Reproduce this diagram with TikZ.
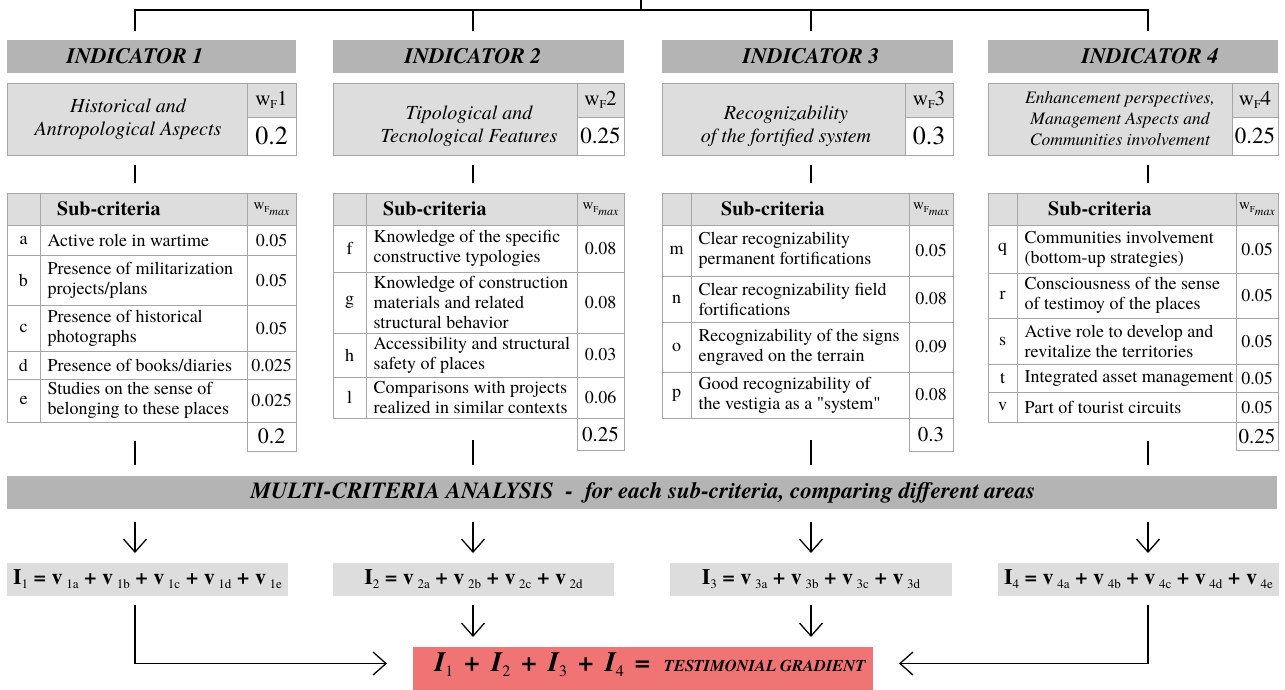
\documentclass[tikz,border=0pt]{standalone}
\usepackage{fontspec}
\setmainfont{texgyretermes}[Extension=.otf, UprightFont=*-regular, BoldFont=*-bold, ItalicFont=*-italic, BoldItalicFont=*-bolditalic]
\usetikzlibrary{arrows.meta}
\definecolor{hdrgray}{RGB}{180,180,180}
\definecolor{lgray}{RGB}{221,221,221}
\definecolor{lineg}{RGB}{165,165,165}
\definecolor{redbox}{RGB}{240,116,116}
\newcommand\fsz[2]{\fontsize{#1pt}{#2pt}\selectfont}
\newcommand\mkcell[7]{%
  \pgfmathsetmacro\cw{#4-#2}%
  \pgfmathsetmacro\ch{#5-#3}%
  \node[#6, minimum width=\cw pt, minimum height=\ch pt, anchor=north west] (#1) at (#2,#3) {#7};}
\newcommand\setcol[4]{\def\cL{#1}\def\cA{#2}\def\cB{#3}\def\cR{#4}}
\newcommand\subrow[6]{%
  \mkcell{#1l}{\cL}{#2}{\cA}{#3}{tc}{#4}%
  \mkcell{#1t}{\cA}{#2}{\cB}{#3}{tc}{}%
  \mkcell{#1v}{\cB}{#2}{\cR}{#3}{tc}{#6}%
  \node[rowtxt] (#1x) at ({\cA+7.5},{(#2+#3)/2}) {#5};}
\newcommand\wf[1]{\fsz{21}{21}w\raisebox{-3pt}{\fsz{12}{12}F}#1}
\newcommand\wfmax{\fsz{15}{15}w\raisebox{-2.5pt}{\fsz{9}{9}F\raisebox{-3pt}{\fsz{12}{12}\itshape max}}}
\newcommand\vt[1]{\textbf{v}\,\raisebox{-4pt}{\mdseries\fsz{13}{13}#1}}
\newcommand\It[1]{\textbf{I}\raisebox{-4pt}{\mdseries\fsz{13}{13}#1}}
\newcommand\Ri[1]{I\raisebox{-5pt}{\upshape\mdseries\fsz{16}{16}#1}}
\tikzset{
  tc/.style={draw=lineg, line width=0.9pt, inner sep=0pt, outer sep=0pt, font=\fsz{18}{20}},
  rowtxt/.style={anchor=west, align=left, inner sep=0pt, font=\fsz{18}{20}},
  subh/.style={anchor=west, inner sep=0pt, font=\bfseries\fsz{20}{20}},
  bar/.style={fill=hdrgray, inner sep=0pt, outer sep=0pt},
  fbox/.style={fill=lgray, inner sep=0pt, outer sep=0pt, font=\bfseries\fsz{22}{22}},
  conn/.style={line width=1.3pt},
  arr/.style={conn, -{Straight Barb[length=13pt,width=23pt]}},
  indt/.style={font=\bfseries\itshape\fsz{22}{22}, inner sep=0pt},
  tit/.style={align=center, font=\itshape\fsz{20}{23}, inner sep=0pt},
}
\begin{document}
\begin{tikzpicture}[x=1pt,y=-1pt]
\useasboundingbox (0,0) rectangle (1285,690);
\coordinate (g1) at (135,0);
\coordinate (g2) at (473,0);
\coordinate (g3) at (811,0);
\coordinate (g4) at (1148,0);
\coordinate (topin) at (641,0);
\coordinate (hub) at (641,10);

% ---------------- column 1
\mkcell{ind1}{7}{40}{296}{73}{bar}{}
\node[indt] (it1) at (135,56.5) {INDICATOR 1};
\mkcell{tit1}{7}{83}{247}{155}{tc,fill=lgray}{}
\node[tit] (tt1) at (128,119.5) {Historical and\\Antropological Aspects};
\mkcell{wl1}{247}{83}{296}{117}{tc,fill=lgray}{\wf{1}}
\mkcell{wv1}{247}{117}{296}{155}{tc,fill=white,font=\fsz{26}{26}}{0.2}
\setcol{7}{40}{247}{296}
\mkcell{hl1}{\cL}{193}{\cA}{225}{tc,fill=lgray}{}
\mkcell{ht1}{\cA}{193}{\cB}{225}{tc,fill=lgray}{}
\mkcell{hv1}{\cB}{193}{\cR}{225}{tc,fill=lgray}{\wfmax}
\node[subh] (hs1) at (57,209) {Sub-criteria};
\subrow{ra}{225}{255}{a}{Active role in wartime}{0.05}
\subrow{rb}{255}{305}{b}{Presence of militarization\\projects/plans}{0.05}
\subrow{rc}{305}{351}{c}{Presence of historical\\photographs}{0.05}
\subrow{rd}{351}{379}{d}{Presence of books/diaries}{0.025}
\subrow{re}{379}{422}{e}{Studies on the sense of\\belonging to these places}{0.025}
\mkcell{tot1}{\cB}{422}{\cR}{451}{tc,font=\fsz{22}{22}}{0.2}

% ---------------- column 2
\mkcell{ind2}{333}{40}{624}{73}{bar}{}
\node[indt] (it2) at (473,56.5) {INDICATOR 2};
\mkcell{tit2}{333}{83}{577}{155}{tc,fill=lgray}{}
\node[tit] (tt2) at (469,126) {Tipological and\\Tecnological Features};
\mkcell{wl2}{577}{83}{624}{117}{tc,fill=lgray}{\wf{2}}
\mkcell{wv2}{577}{117}{624}{155}{tc,fill=white,font=\fsz{23}{23}}{0.25}
\setcol{333}{366}{577}{624}
\mkcell{hl2}{\cL}{193}{\cA}{225}{tc,fill=lgray}{}
\mkcell{ht2}{\cA}{193}{\cB}{225}{tc,fill=lgray}{}
\mkcell{hv2}{\cB}{193}{\cR}{225}{tc,fill=lgray}{\wfmax}
\node[subh] (hs2) at (383,209) {Sub-criteria};
\subrow{rf}{225}{272}{f}{Knowledge of the specific\\constructive typologies}{0.08}
\subrow{rg}{272}{333}{g}{Knowledge of construction\\materials and related\\structural behavior}{0.08}
\subrow{rh}{333}{377}{h}{Accessibility and structural\\safety of places}{0.03}
\subrow{rl}{377}{418}{l}{Comparisons with projects\\realized in similar contexts}{0.06}
\mkcell{tot2}{\cB}{418}{\cR}{450}{tc,font=\fsz{21}{21}}{0.25}

% ---------------- column 3
\mkcell{ind3}{662}{40}{953}{73}{bar}{}
\node[indt] (it3) at (811,56.5) {INDICATOR 3};
\mkcell{tit3}{662}{83}{905}{155}{tc,fill=lgray}{}
\node[tit] (tt3) at (786,126) {Recognizability\\of the fortified system};
\mkcell{wl3}{905}{83}{953}{117}{tc,fill=lgray}{\wf{3}}
\mkcell{wv3}{905}{117}{953}{155}{tc,fill=white,font=\fsz{26}{26}}{0.3}
\setcol{662}{691}{909}{953}
\mkcell{hl3}{\cL}{193}{\cA}{225}{tc,fill=lgray}{}
\mkcell{ht3}{\cA}{193}{\cB}{225}{tc,fill=lgray}{}
\mkcell{hv3}{\cB}{193}{\cR}{225}{tc,fill=lgray}{\wfmax}
\node[subh] (hs3) at (721,209) {Sub-criteria};
\subrow{rm}{225}{276}{m}{Clear recognizability\\permanent fortifications}{0.05}
\subrow{rn}{276}{322}{n}{Clear recognizability field\\fortifications}{0.08}
\subrow{ro}{322}{372}{o}{Recognizability of the signs\\engraved on the terrain}{0.09}
\subrow{rp}{372}{418}{p}{Good recognizability of\\the vestigia as a \textquotedbl system\textquotedbl}{0.08}
\mkcell{tot3}{\cB}{418}{\cR}{451}{tc,font=\fsz{21}{21}}{0.3}

% ---------------- column 4
\mkcell{ind4}{988}{40}{1278}{73}{bar}{}
\node[indt] (it4) at (1150,56.5) {INDICATOR 4};
\mkcell{tit4}{988}{83}{1232}{155}{tc,fill=lgray}{}
\node[tit, font=\itshape\fsz{17.5}{21}] (tt4) at (1120,119) {Enhancement perspectives,\\Management Aspects and\\Communities involvement};
\mkcell{wl4}{1232}{83}{1278}{117}{tc,fill=lgray}{\wf{4}}
\mkcell{wv4}{1232}{117}{1278}{155}{tc,fill=white,font=\fsz{23}{23}}{0.25}
\setcol{988}{1017}{1236}{1278}
\mkcell{hl4}{\cL}{193}{\cA}{225}{tc,fill=lgray}{}
\mkcell{ht4}{\cA}{193}{\cB}{225}{tc,fill=lgray}{}
\mkcell{hv4}{\cB}{193}{\cR}{225}{tc,fill=lgray}{\wfmax}
\node[subh] (hs4) at (1048,209) {Sub-criteria};
\subrow{rq}{225}{273}{q}{Communities involvement\\(bottom-up strategies)}{0.05}
\subrow{rr}{273}{318}{r}{Consciousness of the sense\\of testimoy of the places}{0.05}
\subrow{rs}{318}{364}{s}{Active role to develop and\\revitalize the territories}{0.05}
\subrow{rt}{364}{392}{t}{Integrated asset management}{0.05}
\subrow{rv}{392}{422}{v}{Part of tourist circuits}{0.05}
\mkcell{tot4}{\cB}{422}{\cR}{450}{tc,font=\fsz{21}{21}}{0.25}

% ---------------- multi-criteria bar
\mkcell{multi}{7}{476}{1277}{509}{bar}{}
\node[font=\bfseries\itshape\fsz{23}{23}, inner sep=0pt] (mtxt) at (643,492.5)
  {MULTI-CRITERIA ANALYSIS\hspace{12pt}-\hspace{12pt}for each sub-criteria, comparing different areas};

% ---------------- formulas
\mkcell{I1}{7}{563}{288}{596}{fbox}{\It{1} = \vt{1a} + \vt{1b} + \vt{1c} + \vt{1d} + \vt{1e}}
\mkcell{I2}{333}{563}{614}{596}{fbox}{\It{2} = \vt{2a} + \vt{2b} + \vt{2c} + \vt{2d}}
\mkcell{I3}{670}{563}{952}{596}{fbox}{\It{3} = \vt{3a} + \vt{3b} + \vt{3c} + \vt{3d}}
\mkcell{I4}{998}{563}{1279}{596}{fbox}{\It{4} = \vt{4a} + \vt{4b} + \vt{4c} + \vt{4d} + \vt{4e}}

% ---------------- result
\mkcell{red}{413}{647}{873}{690}{fill=redbox, inner sep=0pt, outer sep=0pt}{}
\node[font=\bfseries\itshape\fsz{28}{28}, inner sep=0pt] (redt) at (650,665)
  {\Ri{1}\hspace{11pt}+\hspace{11pt}\Ri{2}\hspace{11pt}+\hspace{11pt}\Ri{3}\hspace{11pt}+\hspace{11pt}\Ri{4}\hspace{11pt}=\hspace{13pt}{\fsz{16.5}{16.5}TESTIMONIAL GRADIENT}};

% ---------------- connectors
\draw[conn] (topin) -- (hub);
\foreach \i in {1,...,4}{
  \draw[conn, shorten >=9pt] (hub) -| (ind\i.north -| g\i);
  \draw[conn, shorten <=10pt, shorten >=10pt] (tit\i.south -| g\i) -- (ht\i.north -| g\i);
  \draw[arr, shorten <=13pt, shorten >=10pt] (multi.south -| g\i) -- (I\i.north -| g\i);
}
\draw[conn, shorten <=19pt, shorten >=11pt] (ret.south -| g1) -- (multi.north -| g1);
\draw[conn, shorten <=22pt, shorten >=11pt] (rlt.south -| g2) -- (multi.north -| g2);
\draw[conn, shorten <=22pt, shorten >=11pt] (rpt.south -| g3) -- (multi.north -| g3);
\draw[conn, shorten <=19pt, shorten >=11pt] (rvt.south -| g4) -- (multi.north -| g4);
\draw[arr, shorten <=9pt, shorten >=10pt] (I2.south -| g2) -- (red.north -| g2);
\draw[arr, shorten <=9pt, shorten >=10pt] (I3.south -| g3) -- (red.north -| g3);
\draw[arr, shorten <=9pt, shorten >=26pt] (I1.south -| g1) |- ([yshift=5pt]red.west);
\draw[arr, shorten <=9pt, shorten >=26pt] (I4.south -| g4) |- ([yshift=5pt]red.east);
\end{tikzpicture}
\end{document}
